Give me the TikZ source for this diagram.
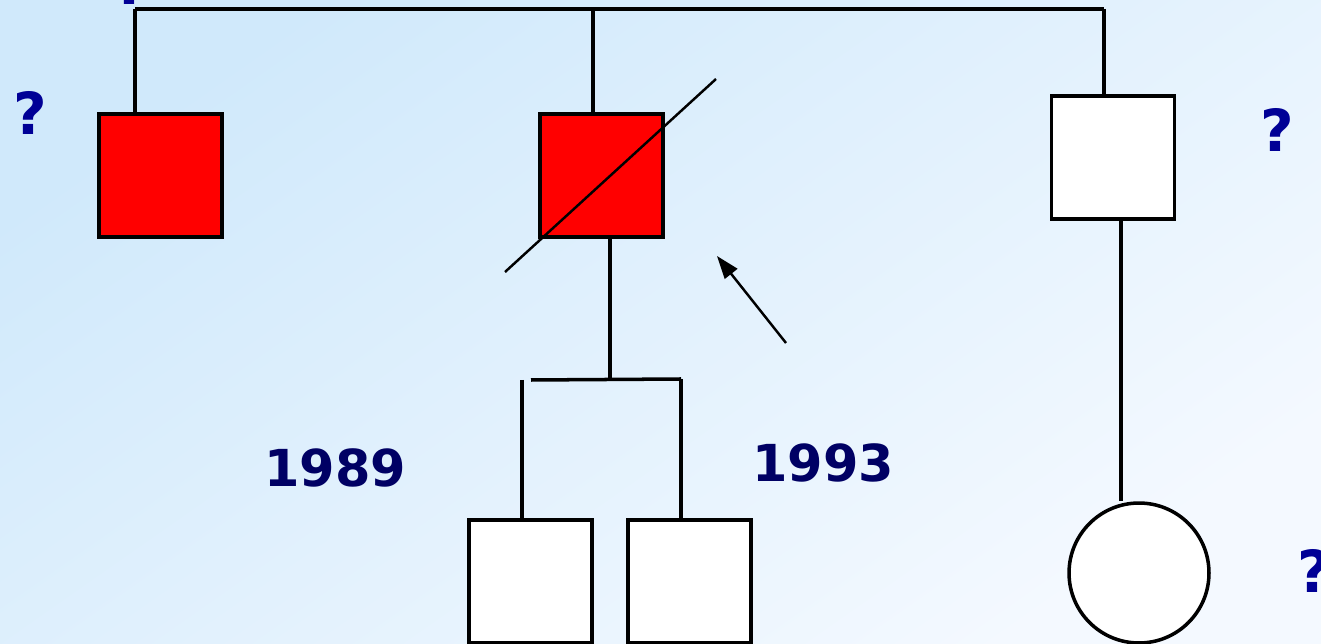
\documentclass[tikz,border=0pt]{standalone}
\usepackage{fontspec}
\usetikzlibrary{arrows.meta}
\newfontfamily\labelfont{DejaVu Sans}
\definecolor{bgtop}{RGB}{208,233,251}
\definecolor{bgbot}{RGB}{244,249,255}
\definecolor{qblue}{RGB}{0,0,150}
\definecolor{ynavy}{RGB}{0,0,100}
\tikzset{
  person/.style={draw=black, line width=2pt, inner sep=0pt},
  male/.style={person, rectangle, minimum size=2.46cm},
  female/.style={person, circle, minimum size=2.8cm},
  link/.style={line width=2pt},
  thinlink/.style={line width=1.4pt},
  qmark/.style={text=qblue, font=\labelfont\bfseries\fontsize{33}{33}\selectfont},
  year/.style={text=ynavy, font=\labelfont\bfseries\fontsize{29}{29}\selectfont}
}
\begin{document}
\begin{tikzpicture}[x=0.02cm,y=-0.02cm]
	\shade[top color=bgtop, bottom color=bgbot, shading angle=35] (0,0) rectangle (1321,644);
	\useasboundingbox (0,0) rectangle (1321,644);
	\clip (0,0) rectangle (1321,644);
	
	\node[male, fill=red] (uncleL) at (160.5,175.5) {};
	\node[male, fill=red] (father) at (601.5,175.5) {};
	\node[male, fill=white] (uncleR) at (1113,157.5) {};
	
	\node[male, fill=white] (son1) at (530.5,581.5) {};
	\node[male, fill=white] (son2) at (689.5,581.5) {};
	\node[female, fill=white] (cousin) at (1139,573) {};
	
	\node[qmark, anchor=base] (qT) at (131,5) {?};
	\node[qmark] (qL) at (30,113) {?};
	\node[qmark] (qR) at (1277,130) {?};
	\node[qmark] (qC) at (1314,571) {?};
	
	\node[year] (y1) at (335,468) {1989};
	\node[year] (y2) at (823,463) {1993};
	
	\coordinate (topL) at (135,9);
	\coordinate (topM) at (593,9);
	\coordinate (topR) at (1104,9);
	\coordinate (stem) at (610,379);
	\coordinate (sibL) at (531,380);
	\coordinate (sibR) at (681,379);
	\coordinate (drop1) at (522,380);
	\coordinate (cord) at (1121,0);
	\coordinate (slashA) at (505,272);
	\coordinate (slashB) at (716,79);
	\coordinate (arrTail) at (786,343);
	\coordinate (arrHead) at (717,256);
	
	\draw[link] (topL) -- (topR);
	\draw[link] (topL) -- (topL |- uncleL.north);
	\draw[link] (topM) -- (topM |- father.north);
	\draw[link] (topR) -- (topR |- uncleR.north);
	
	\draw[link] (stem |- father.south) -- (stem);
	\draw[link] (sibL) -- (sibR);
	\draw[link] (drop1) -- (drop1 |- son1.north);
	\draw[link] (sibR) -- (sibR |- son2.north);
	\draw[link] (cord |- uncleR.south) -- (cord |- cousin.north);
	
	\draw[thinlink] (slashA) -- (slashB);
	\draw[thinlink, -{Triangle[length=13pt, width=9pt]}] (arrTail) -- (arrHead);
\end{tikzpicture}
\end{document}
